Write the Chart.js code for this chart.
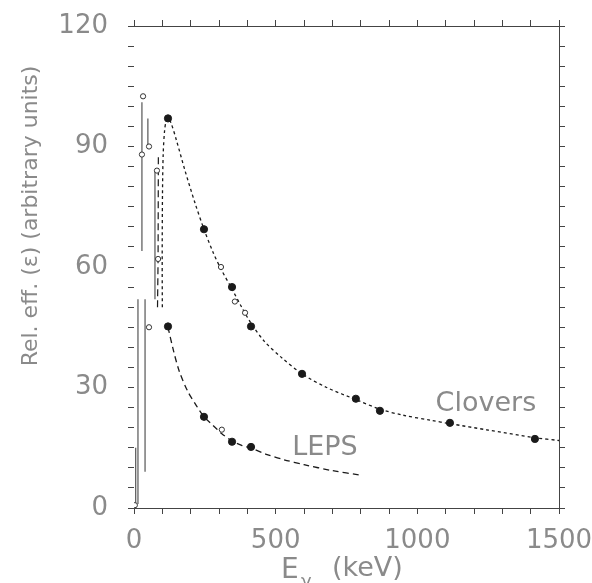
<!DOCTYPE html>
<html><head><meta charset="utf-8">
<script src="https://cdn.jsdelivr.net/npm/chart.js@4.4.1/dist/chart.umd.min.js"></script>
<style>html,body{margin:0;padding:0;background:#fff}canvas{display:block}</style>
</head><body><canvas id="c" width="592" height="583"></canvas>
<script>
// ---- data (energy in keV, relative efficiency) ----
const cloversCurveE = [100, 99.5, 100.5, 103, 108, 114, 120, 130, 150, 180, 215, 247, 280, 307, 346, 380, 413, 460, 520, 593, 680, 783, 868, 950, 1050, 1115, 1250, 1415, 1500];
const cloversCurveV = [50, 62, 78, 88, 94, 96.5, 97, 96, 91.5, 84, 76, 69.4, 63.5, 59.5, 54.5, 50, 46, 41.5, 37.5, 33.4, 30, 27, 24.6, 23.1, 21.8, 21, 19.4, 17.5, 16.8];
const lepsCurveE = [120, 140, 160, 190, 220, 247, 280, 310, 346, 380, 413, 470, 530, 600, 700, 798];
const lepsCurveV = [45, 39, 34, 29, 25.5, 22.7, 20.5, 18.5, 16.7, 15.6, 14.9, 13.3, 12, 10.8, 9.3, 8.2];
const cloversFilledE = [120, 247, 346, 413, 593, 783, 868, 1115, 1415];
const cloversFilledV = [97, 69.4, 55, 45.2, 33.4, 27.2, 24.2, 21.2, 17.2];
const cloversOpenE = [307, 356, 392];
const cloversOpenV = [60, 51.4, 48.6];
const lepsFilledE = [120, 247, 346, 413];
const lepsFilledV = [45.2, 22.7, 16.5, 15.2];
const lepsOpenE = [310, 32, 53, 28, 81, 85, 53, 3];
const lepsOpenV = [19.5, 102.5, 90, 88, 84, 62, 45, 0.7];
// low-energy steep traces
const lowSegsE = [[14, 14], [28, 28], [39, 39], [49, 49], [74, 74], [6, 6]];
const lowSegsV = [[1, 52], [64, 101], [9, 52], [90, 97], [52, 84], [0, 15]];
const lowDashE = [83, 85, 86];
const lowDashV = [50, 62, 88];

const xLabelValues = [0, 500, 1000, 1500];
const yLabelValues = [0, 30, 60, 90, 120];
const yTitle = 'Rel. eff. (\u03b5) (arbitrary units)';
const xTitleMain = 'E', xTitleSub = '\u03b3', xTitleUnit = '(keV)';
const curveLabels = [{text: 'Clovers', x: 1242, y: 26}, {text: 'LEPS', x: 674, y: 15}];

// ---- build ----
const pts = (E, V) => E.map((e, i) => ({x: e, y: V[i]}));
const TEXT = '#8a8a8a', AX = '#444', INK = '#1a1a1a';
const FONT = '"DejaVu Sans", "Liberation Sans", sans-serif';

const datasets = [
  {data: pts(cloversCurveE, cloversCurveV), showLine: true, borderColor: INK, borderWidth: 1.3, borderDash: [3, 3], pointRadius: 0, tension: 0.3, order: 5},
  {data: pts(lepsCurveE, lepsCurveV), showLine: true, borderColor: INK, borderWidth: 1.3, borderDash: [6, 4], pointRadius: 0, tension: 0.3, order: 5},
  {data: pts(lowDashE, lowDashV), showLine: true, borderColor: INK, borderWidth: 1.2, borderDash: [7, 4], pointRadius: 0, order: 5},
  ...lowSegsE.map((E, i) => ({data: pts(E, lowSegsV[i]), showLine: true, borderColor: '#555', borderWidth: 1.2, pointRadius: 0, order: 5})),
  {data: pts(cloversFilledE, cloversFilledV), pointRadius: 3.6, pointBackgroundColor: INK, pointBorderColor: INK, showLine: false, order: 1},
  {data: pts(lepsFilledE, lepsFilledV), pointRadius: 3.6, pointBackgroundColor: INK, pointBorderColor: INK, showLine: false, order: 1},
  {data: pts(cloversOpenE, cloversOpenV), pointRadius: 2.6, pointBackgroundColor: '#fff', pointBorderColor: '#333', pointBorderWidth: 1, showLine: false, order: 1},
  {data: pts(lepsOpenE, lepsOpenV), pointRadius: 2.6, pointBackgroundColor: '#fff', pointBorderColor: '#333', pointBorderWidth: 1, showLine: false, order: 1}
];

const gridOpt = {drawOnChartArea: false, tickLength: 6, color: AX};
const noPad = s => { s.paddingLeft = 0; s.paddingRight = 0; s.paddingTop = 0; s.paddingBottom = 0; };
const textPlugin = {
  id: 'texts',
  afterDraw(chart) {
    const {ctx, scales: {x, y}} = chart;
    ctx.save();
    ctx.fillStyle = TEXT;
    ctx.textBaseline = 'middle';
    ctx.textAlign = 'center';
    ctx.font = '27px ' + FONT;
    curveLabels.forEach(l => ctx.fillText(l.text, x.getPixelForValue(l.x), y.getPixelForValue(l.y)));
    // x title
    ctx.textAlign = 'left';
    ctx.textBaseline = 'alphabetic';
    ctx.font = '28px ' + FONT;
    ctx.fillText(xTitleMain, 281, 578);
    ctx.font = '18px ' + FONT;
    ctx.fillText(xTitleSub, 301, 587);
    ctx.font = '27px ' + FONT;
    ctx.fillText(xTitleUnit, 332, 576);
    // y title
    ctx.translate(31, 216);
    ctx.rotate(-Math.PI / 2);
    ctx.textAlign = 'center';
    ctx.textBaseline = 'middle';
    ctx.font = '22px ' + FONT;
    ctx.fillText(yTitle, 0, 0);
    ctx.restore();
  }
};

new Chart(document.getElementById('c'), {
  type: 'scatter',
  data: {datasets},
  plugins: [textPlugin],
  options: {
    responsive: false, animation: false, devicePixelRatio: 1,
    layout: {padding: 0},
    plugins: {legend: {display: false}, tooltip: {enabled: false}},
    scales: {
      x: {type: 'linear', position: 'bottom', min: 0, max: 1500,
        ticks: {stepSize: 100, autoSkip: false, maxRotation: 0, padding: 12, color: TEXT, font: {family: FONT, size: 26},
          callback: v => xLabelValues.includes(v) ? String(v) : ''},
        grid: gridOpt, border: {color: AX, width: 1}, afterFit(s) { s.height = 75; noPad(s); }},
      x2: {type: 'linear', position: 'top', min: 0, max: 1500,
        ticks: {stepSize: 100, autoSkip: false, display: false},
        grid: gridOpt, border: {color: AX, width: 1}, afterFit(s) { s.height = 26; noPad(s); }},
      y: {type: 'linear', position: 'left', min: 0, max: 120,
        ticks: {stepSize: 5, autoSkip: false, padding: 20, color: TEXT, font: {family: FONT, size: 26},
          callback: v => yLabelValues.includes(v) ? String(v) : ''},
        grid: gridOpt, border: {display: false}, afterFit(s) { s.width = 134; noPad(s); }},
      y2: {type: 'linear', position: 'right', min: 0, max: 120,
        ticks: {stepSize: 5, autoSkip: false, display: false},
        grid: gridOpt, border: {color: AX, width: 1}, afterFit(s) { s.width = 33; noPad(s); }}
    }
  }
});
</script>
</body></html>
